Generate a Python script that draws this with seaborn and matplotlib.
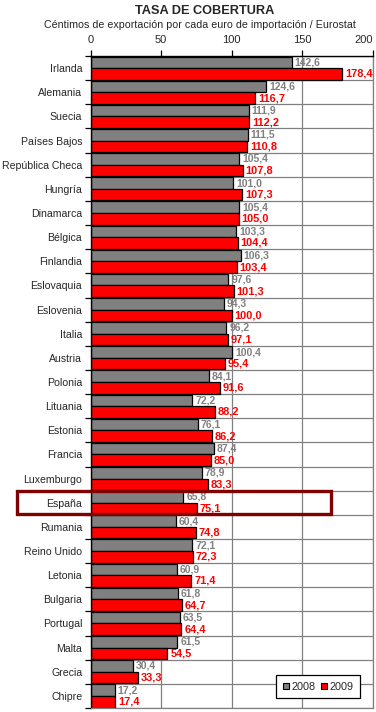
import numpy as np
import pandas as pd

import matplotlib
matplotlib.use("Agg")
import matplotlib.pyplot as plt
import matplotlib.patches as patches
from matplotlib.lines import Line2D
from matplotlib.transforms import blended_transform_factory
import seaborn as sns


countries = ["Irlanda", "Alemania", "Suecia", "Países Bajos", "República Checa", "Hungría",
             "Dinamarca", "Bélgica", "Finlandia", "Eslovaquia", "Eslovenia", "Italia",
             "Austria", "Polonia", "Lituania", "Estonia", "Francia", "Luxemburgo", "España",
             "Rumania", "Reino Unido", "Letonia", "Bulgaria", "Portugal", "Malta", "Grecia",
             "Chipre"]
values_2008 = [142.6, 124.6, 111.9, 111.5, 105.4, 101.0, 105.4, 103.3, 106.3, 97.6, 94.3, 96.2,
               100.4, 84.1, 72.2, 76.1, 87.4, 78.9, 65.8, 60.4, 72.1, 60.9, 61.8, 63.5, 61.5,
               30.4, 17.2]
values_2009 = [178.4, 116.7, 112.2, 110.8, 107.8, 107.3, 105.0, 104.4, 103.4, 101.3, 100.0, 97.1,
               95.4, 91.6, 88.2, 86.2, 85.0, 83.3, 75.1, 74.8, 72.3, 71.4, 64.7, 64.4, 54.5,
               33.3, 17.4]
years = ["2008", "2009"]
highlight = "España"

colors = {"2008": "#808080", "2009": "#ff0000"}

df = pd.DataFrame({
    "Pais": countries * 2,
    "Año": ["2008"] * len(countries) + ["2009"] * len(countries),
    "Valor": values_2008 + values_2009,
})

sns.set_style("white")
plt.rcParams['font.family'] = ['Liberation Sans', 'DejaVu Sans']

fig = plt.figure(figsize=(3.76, 7.12), dpi=100)
ax = fig.add_axes([0.2407, 0.0056, 0.7513, 0.9157])

sns.barplot(data=df, x="Valor", y="Pais", hue="Año", hue_order=years, order=countries,
            palette=colors, orient="h", width=0.96, edgecolor="black", linewidth=0.9,
            saturation=1, legend=False, ax=ax)

# value labels, comma decimals
for cont, yr in zip(ax.containers, years):
    vals = [c.get_width() for c in cont]
    labs = [f"{v:.1f}".replace(".", ",") for v in vals]
    ax.bar_label(cont, labels=labs, padding=2, color=colors[yr], fontweight="bold",
                 fontsize=7.5 if yr == "2008" else 7.9)

ax.set_xlim(0, 200)
ax.set_ylim(len(countries) - 0.5, -0.5)
ax.set_xlabel("")
ax.set_ylabel("")

# x axis on top
ax.xaxis.tick_top()
ax.set_xticks([0, 50, 100, 150, 200])
ax.tick_params(axis="x", which="major", top=True, length=4, width=0.9, color="black",
               labelsize=8, pad=4)
ax.get_xticklabels()[-1].set_horizontalalignment("right")
ax.get_xticklabels()[-1].set_x(200)
ax.grid(axis="x", color="#808080", linewidth=0.9)

# category separators
ax.set_yticks(np.arange(len(countries)))
ax.set_yticks(np.arange(len(countries) + 1) - 0.5, minor=True)
ax.tick_params(axis="y", which="major", length=0, labelsize=7.6, pad=6)
ax.tick_params(axis="y", which="minor", left=True, length=4, width=0.9, color="black")
ax.grid(axis="y", which="minor", color="#808080", linewidth=0.9)
ax.grid(axis="y", which="major", visible=False)
ax.set_axisbelow(True)

for side in ["left", "top"]:
    ax.spines[side].set_color("black")
    ax.spines[side].set_linewidth(1.0)
for side in ["right", "bottom"]:
    ax.spines[side].set_color("#808080")
    ax.spines[side].set_linewidth(0.9)

# titles
fig.text(0.545, 0.985, "TASA DE COBERTURA", ha="center", va="center", fontsize=9.2,
         fontweight="bold")
fig.text(0.532, 0.965, "Céntimos de exportación por cada euro de importación / Eurostat",
         ha="center", va="center", fontsize=7.7)

# highlight box around España
idx = countries.index(highlight)
trans = blended_transform_factory(fig.transFigure, ax.transData)
rect = patches.Rectangle((17 / 376, idx - 0.5), 314 / 376, 0.98, transform=trans,
                         fill=False, edgecolor="#800000", linewidth=2.4, clip_on=False,
                         zorder=5)
fig.patches.append(rect)

# legend
handles = [Line2D([], [], marker="s", linestyle="none", markersize=5, markerfacecolor=colors[y],
                  markeredgecolor="black", markeredgewidth=0.8) for y in years]
leg = ax.legend(handles, years, ncol=2, loc="lower right", bbox_to_anchor=(0.955, 0.015),
                frameon=True, fancybox=False, edgecolor="black", fontsize=7.8,
                handlelength=0.5, handletextpad=0.3, columnspacing=0.5, borderpad=0.6,
                borderaxespad=0, framealpha=1)
leg.get_frame().set_linewidth(0.9)

plt.savefig("out.png", dpi=100)
plt.close()
